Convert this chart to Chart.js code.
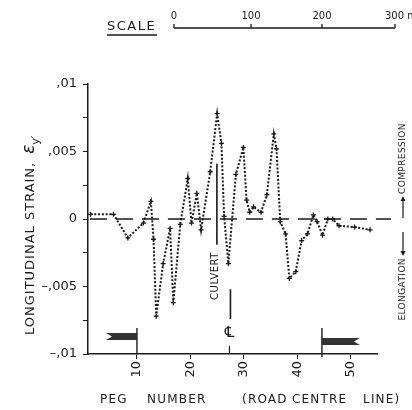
<!DOCTYPE html>
<html lang="en">
  <head>
    <meta charset="UTF-8" />
    <title>Longitudinal strain along road centre line</title>
    <script src="https://cdn.jsdelivr.net/npm/chart.js"></script>
    <style>
      body {
        margin: 0;
        background: #fff;
      }
      #wrap {
        width: 412px;
        height: 410px;
      }
    </style>
  </head>
  <body>
    <div id="wrap">
      <canvas id="strainChart" width="412" height="410"></canvas>
    </div>

    <script>
      const pegs = [1.3, 5.6, 8.3, 11.2, 12.6, 13.1, 13.6, 14.9, 16.2, 16.8, 18.1,
        19.5, 20.2, 21.2, 22.0, 23.7, 25.0, 25.8, 26.3, 27.1, 28.5, 29.9, 30.5,
        31.1, 31.8, 33.2, 34.3, 35.6, 36.1, 36.8, 37.8, 38.5, 39.7, 40.8, 41.9,
        43.0, 43.7, 44.7, 45.7, 46.6, 47.8, 50.7, 53.6];
      const strain = [0.00035, 0.00035, -0.0014, -0.0003, 0.0013, -0.0015, -0.0072,
        -0.0033, -0.0007, -0.0062, -0.0004, 0.003, -0.0003, 0.0019, -0.0008, 0.0035,
        0.0078, 0.0056, 0.0002, -0.0033, 0.0033, 0.0053, 0.0014, 0.0005, 0.0009,
        0.0005, 0.0018, 0.0063, 0.0052, -0.0002, -0.0011, -0.0044, -0.0039, -0.0016,
        -0.0011, 0.0003, -0.0002, -0.0012, 0.0, 0.0, -0.0005, -0.0006, -0.0008];

      const zeroLine = [1.2, 57.5];
      const xTicks = [10, 20, 30, 40, 50];
      const yTicks = [-0.01, -0.0075, -0.005, -0.0025, 0, 0.0025, 0.005, 0.0075, 0.01];
      const yTickLabels = ["\u2013,01", "", "\u2013,005", "", "0", "", ",005", "", ",01"];
      const scaleLabels = ["0", "100", "200", "300 m"];

      // features along the road
      const culvertPeg = 24.95;
      const centrePeg = 27.3;
      const roadEnds = [10, 44.6];

      const ink = "#1a1a1a";
      const font = "'DejaVu Sans', sans-serif";

      const annotations = {
        id: "annotations",
        afterDraw(chart) {
          const ctx = chart.ctx;
          const x = chart.scales.x;
          const y = chart.scales.y;
          const area = chart.chartArea;
          ctx.save();
          ctx.fillStyle = ink;
          ctx.strokeStyle = ink;

          // y axis title
          ctx.save();
          ctx.translate(31, 218);
          ctx.rotate(-Math.PI / 2);
          ctx.font = "13px " + font;
          ctx.letterSpacing = "1px";
          ctx.textBaseline = "middle";
          const main = "LONGITUDINAL STRAIN,";
          const w = ctx.measureText(main).width;
          const start = -117;
          ctx.textAlign = "left";
          ctx.fillText(main, start, 0);
          ctx.letterSpacing = "0px";
          ctx.font = "italic 17px " + font;
          ctx.fillText("\u03b5", start + w + 8, -1);
          ctx.font = "11px " + font;
          ctx.fillText("y\u2032", start + w + 17, 5);
          ctx.restore();

          // x axis title
          ctx.font = "12px " + font;
          ctx.letterSpacing = "1.2px";
          ctx.textBaseline = "middle";
          ctx.textAlign = "left";
          ctx.fillText("PEG", 100, 400);
          ctx.fillText("NUMBER", 147, 400);
          ctx.fillText("(ROAD", 242, 400);
          ctx.fillText("CENTRE", 292, 400);
          ctx.fillText("LINE)", 363, 400);

          // scale bar
          ctx.font = "13px " + font;
          ctx.letterSpacing = "1.5px";
          ctx.fillText("SCALE", 107, 27);
          ctx.lineWidth = 1.3;
          ctx.beginPath();
          ctx.moveTo(107, 35);
          ctx.lineTo(157, 35);
          ctx.stroke();
          const barX = [174, 251, 322, 395];
          ctx.beginPath();
          ctx.moveTo(barX[0], 28);
          ctx.lineTo(barX[3], 28);
          barX.forEach((bx) => {
            ctx.moveTo(bx, 28);
            ctx.lineTo(bx, 24);
          });
          ctx.stroke();
          ctx.font = "10px " + font;
          ctx.letterSpacing = "0px";
          scaleLabels.forEach((t, i) => {
            ctx.textAlign = i === 3 ? "left" : "center";
            ctx.fillText(t, i === 3 ? barX[i] - 10 : barX[i], 16);
          });

          // compression / elongation note
          ctx.save();
          ctx.translate(403, 218);
          ctx.rotate(-Math.PI / 2);
          ctx.font = "9px " + font;
          ctx.letterSpacing = "0.4px";
          ctx.textBaseline = "middle";
          ctx.textAlign = "right";
          ctx.fillText("ELONGATION", -40, 0);
          ctx.textAlign = "left";
          ctx.fillText("COMPRESSION", 24, 0);
          ctx.lineWidth = 1.2;
          ctx.beginPath();
          ctx.moveTo(-14, 0);
          ctx.lineTo(-36, 0);
          ctx.moveTo(0, 0);
          ctx.lineTo(20, 0);
          ctx.stroke();
          ctx.beginPath();
          ctx.moveTo(-38, 0);
          ctx.lineTo(-33, -2.5);
          ctx.lineTo(-33, 2.5);
          ctx.closePath();
          ctx.moveTo(22, 0);
          ctx.lineTo(17, -2.5);
          ctx.lineTo(17, 2.5);
          ctx.closePath();
          ctx.fill();
          ctx.restore();

          // culvert
          const cx = x.getPixelForValue(culvertPeg);
          ctx.lineWidth = 1.6;
          ctx.beginPath();
          ctx.moveTo(cx, y.getPixelForValue(0.0041));
          ctx.lineTo(cx, y.getPixelForValue(-0.0019));
          const cl = x.getPixelForValue(centrePeg);
          ctx.moveTo(cl + 1, y.getPixelForValue(-0.0052));
          ctx.lineTo(cl + 1, y.getPixelForValue(-0.0074));
          ctx.stroke();
          ctx.save();
          ctx.translate(cx - 1, 276);
          ctx.rotate(-Math.PI / 2);
          ctx.font = "10px " + font;
          ctx.letterSpacing = "0.5px";
          ctx.textAlign = "center";
          ctx.textBaseline = "middle";
          ctx.fillText("CULVERT", 0, 0);
          ctx.restore();

          // centre line symbol and tick
          ctx.font = "15px " + font;
          ctx.textAlign = "center";
          ctx.textBaseline = "middle";
          ctx.fillText("\u2104", cl, area.bottom - 21);
          ctx.lineWidth = 1.2;
          ctx.beginPath();
          ctx.moveTo(cl, area.bottom);
          ctx.lineTo(cl, area.bottom - 8);
          ctx.stroke();

          // road ends
          roadEnds.forEach((peg, i) => {
            const rx = x.getPixelForValue(peg);
            const dir = i === 0 ? -1 : 1;
            const top = area.bottom - (i === 0 ? 21 : 16);
            const len = i === 0 ? 31 : 38;
            ctx.lineWidth = 1.4;
            ctx.beginPath();
            ctx.moveTo(rx, area.bottom - 26);
            ctx.lineTo(rx, area.bottom + (i === 0 ? 0 : 3));
            ctx.stroke();
            ctx.fillStyle = "#333";
            ctx.beginPath();
            ctx.moveTo(rx, top);
            ctx.lineTo(rx + dir * len, top);
            ctx.lineTo(rx + dir * (len - 6), top + 3.5);
            ctx.lineTo(rx + dir * len, top + 7);
            ctx.lineTo(rx, top + 7);
            ctx.closePath();
            ctx.fill();
            ctx.fillStyle = ink;
          });

          ctx.restore();
        },
      };

      const ctx = document.getElementById("strainChart").getContext("2d");

      new Chart(ctx, {
        type: "line",
        data: {
          datasets: [
            {
              label: "Longitudinal strain",
              data: pegs.map((p, i) => ({ x: p, y: strain[i] })),
              borderColor: ink,
              borderWidth: 2,
              borderDash: [2, 1.8],
              pointStyle: "cross",
              pointRadius: 2.5,
              pointBorderWidth: 1.3,
              pointBorderColor: ink,
              tension: 0,
            },
            {
              label: "Zero",
              data: zeroLine.map((p) => ({ x: p, y: 0 })),
              borderColor: ink,
              borderWidth: 1.4,
              borderDash: [17, 9],
              pointRadius: 0,
              clip: false,
            },
          ],
        },
        options: {
          responsive: false,
          animation: false,
          devicePixelRatio: 1,
          layout: { padding: { top: 84, right: 35, left: 0, bottom: 0 } },
          plugins: {
            legend: { display: false },
            tooltip: { enabled: false },
          },
          scales: {
            x: {
              type: "linear",
              min: 0.84,
              max: 54.9,
              afterFit: (s) => {
                s.height = 56;
              },
              afterBuildTicks: (s) => {
                s.ticks = xTicks.map((v) => ({ value: v }));
              },
              ticks: {
                color: ink,
                font: { family: font, size: 13 },
                minRotation: 90,
                maxRotation: 90,
                padding: 2,
              },
              grid: {
                drawOnChartArea: false,
                tickLength: 5,
                color: ink,
              },
              border: { color: ink, width: 1.5 },
            },
            y: {
              min: -0.01,
              max: 0.01,
              afterFit: (s) => {
                s.width = 88;
              },
              afterBuildTicks: (s) => {
                s.ticks = yTicks.map((v) => ({ value: v }));
              },
              ticks: {
                color: ink,
                font: { family: font, size: 13 },
                padding: 6,
                callback: (v, i) => yTickLabels[i],
              },
              grid: {
                drawOnChartArea: false,
                tickLength: 5,
                color: ink,
              },
              border: { color: ink, width: 1.5 },
            },
          },
        },
        plugins: [annotations],
      });
    </script>
  </body>
</html>
